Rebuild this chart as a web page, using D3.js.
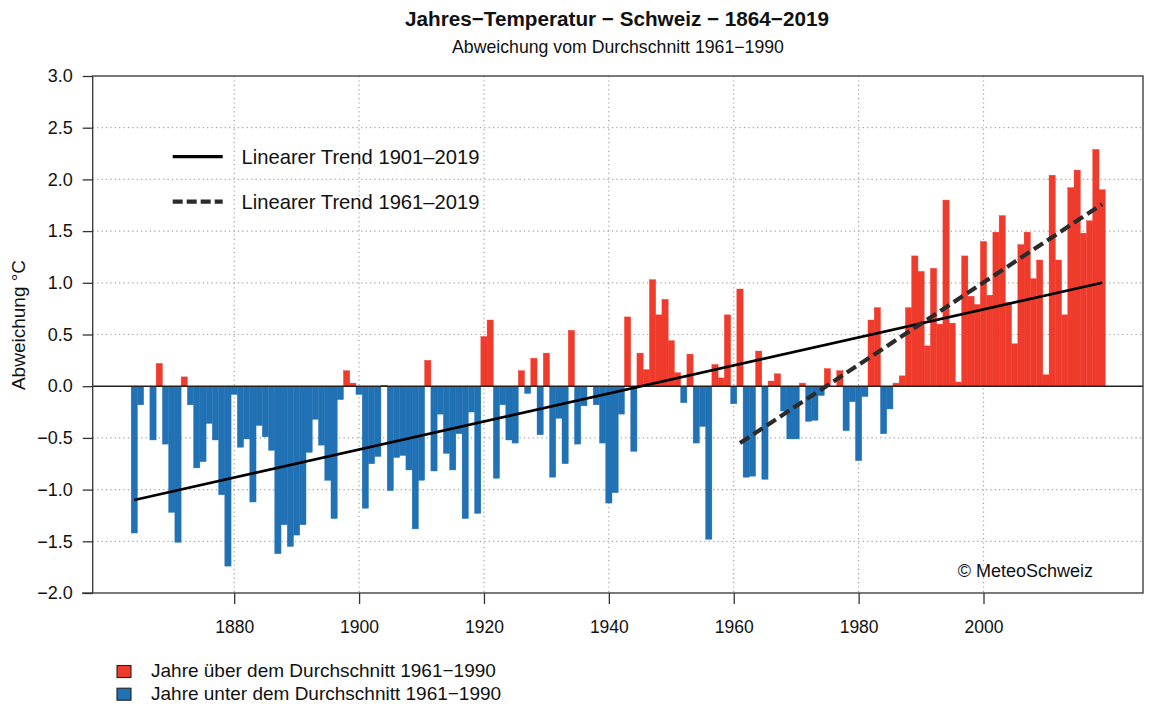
<!DOCTYPE html>
<html><head><meta charset="utf-8">
<script src="https://cdn.jsdelivr.net/npm/d3@7"></script>
<style>
html,body{margin:0;padding:0;background:#fff;}
svg{display:block;font-family:"Liberation Sans",Arial,Helvetica,sans-serif;}
</style></head><body>
<svg id="chart" width="1149" height="704"></svg>
<script>
const startYear = 1864;
const anomalies = [
 -1.42,-0.18,0.00,-0.52,0.22,-0.56,-1.22,-1.51,0.09,-0.18,
 -0.79,-0.73,-0.36,-0.52,-1.05,-1.74,-0.08,-0.59,-0.51,-1.12,
 -0.38,-0.49,-0.62,-1.62,-1.34,-1.55,-1.44,-1.34,-0.64,-0.32,
 -0.57,-0.91,-1.28,-0.13,0.15,0.03,-0.08,-1.18,-0.75,-0.68,
 0.01,-1.01,-0.69,-0.67,-0.81,-1.38,-0.91,0.25,-0.82,-0.27,
 -0.65,-0.81,-0.46,-1.28,-0.25,-1.23,0.48,0.64,-0.89,-0.18,
 -0.52,-0.55,0.15,-0.07,0.27,-0.47,0.32,-0.88,-0.31,-0.75,
 0.54,-0.56,-0.19,0.00,-0.18,-0.55,-1.13,-1.03,-0.27,0.67,
 -0.63,0.32,0.16,1.03,0.69,0.84,0.44,0.13,-0.16,0.31,
 -0.55,-0.39,-1.48,0.21,0.08,0.69,-0.17,0.94,-0.88,-0.87,
 0.34,-0.90,0.05,0.12,-0.24,-0.51,-0.51,0.03,-0.34,-0.33,
 -0.09,0.17,0.00,0.15,-0.43,-0.15,-0.72,-0.10,0.64,0.76,
 -0.46,-0.22,0.03,0.10,0.76,1.26,1.11,0.39,1.14,0.60,
 1.80,0.61,0.04,1.26,0.87,0.79,1.40,0.88,1.49,1.65,
 0.81,0.41,1.37,1.49,1.04,1.22,0.11,2.04,1.22,0.69,
 1.92,2.09,1.48,1.60,2.29,1.90
];
const years = d3.range(startYear, startYear + anomalies.length);
const xTicks = [1880, 1900, 1920, 1940, 1960, 1980, 2000];
const yTicks = [-2.0, -1.5, -1.0, -0.5, 0.0, 0.5, 1.0, 1.5, 2.0, 2.5, 3.0];
const trendLong = {years: [1864, 2019], values: [-1.10, 1.00]};
const trendShort = {years: [1961, 2019], values: [-0.55, 1.76]};
const legendTrendLabels = ["Linearer Trend 1901\u20132019", "Linearer Trend 1961\u20132019"];
const legendBarLabels = ["Jahre \u00fcber dem Durchschnitt 1961\u22121990", "Jahre unter dem Durchschnitt 1961\u22121990"];
const titleText = "Jahres\u2212Temperatur \u2212 Schweiz \u2212 1864\u22122019";
const subtitleText = "Abweichung vom Durchschnitt 1961\u22121990";
const yLabel = "Abweichung \u00b0C";
const credit = "\u00a9 MeteoSchweiz";

const RED = "#ef3b2c", BLUE = "#2171b5";
const plot = {left: 92.7, right: 1143, top: 76, bottom: 593};
const svg = d3.select("#chart");

const x = d3.scaleLinear().domain([1880, 2000]).range([234.2, 983.5]);
const y = d3.scaleLinear().domain([-2, 3]).range([plot.bottom, plot.top]);

// grid
const grid = svg.append("g").attr("stroke", "#a0a0a0").attr("stroke-width", 1.2).attr("stroke-dasharray", "1.2,3.2");
grid.selectAll("line.v").data(xTicks).join("line")
  .attr("x1", d => x(d)).attr("x2", d => x(d)).attr("y1", plot.top).attr("y2", plot.bottom);
grid.selectAll("line.h").data(yTicks.filter(v => v !== 0 && v > -2 && v < 3)).join("line")
  .attr("x1", plot.left).attr("x2", plot.right).attr("y1", d => y(d)).attr("y2", d => y(d));

// bars
const data = years.map((yr, i) => ({year: yr, v: anomalies[i]}));
svg.append("g").selectAll("rect").data(data).join("rect")
  .attr("x", d => x(d.year - 0.5))
  .attr("width", d => x(d.year + 0.5) - x(d.year - 0.5))
  .attr("y", d => y(Math.max(0, d.v)))
  .attr("height", d => Math.abs(y(d.v) - y(0)))
  .attr("fill", d => d.v > 0 ? RED : BLUE)
  .attr("stroke", d => d.v > 0 ? RED : BLUE)
  .attr("stroke-width", 0.4);

// zero line
svg.append("line").attr("x1", plot.left).attr("x2", plot.right)
  .attr("y1", y(0)).attr("y2", y(0)).attr("stroke", "#222").attr("stroke-width", 1.6);

// trend lines
const line = d3.line().x(d => x(d[0])).y(d => y(d[1]));
svg.append("path").datum(trendLong.years.map((yr, i) => [yr, trendLong.values[i]]))
  .attr("d", line).attr("fill", "none").attr("stroke", "#000").attr("stroke-width", 2.6);
svg.append("path").datum(trendShort.years.map((yr, i) => [yr, trendShort.values[i]]))
  .attr("d", line).attr("fill", "none").attr("stroke", "#2b2b2b").attr("stroke-width", 4.2)
  .attr("stroke-dasharray", "11,5");

// frame
svg.append("rect").attr("x", plot.left).attr("y", plot.top)
  .attr("width", plot.right - plot.left).attr("height", plot.bottom - plot.top)
  .attr("fill", "none").attr("stroke", "#333").attr("stroke-width", 1.3);
svg.append("line").attr("x1", 82).attr("x2", plot.left).attr("y1", plot.bottom).attr("y2", plot.bottom)
  .attr("stroke", "#333").attr("stroke-width", 1.3);

// axes
const yAxis = d3.axisLeft(y).tickValues(yTicks).tickFormat(d => d3.format(".1f")(d).replace("-", "\u2212"))
  .tickSize(10).tickPadding(10);
const gy = svg.append("g").attr("transform", `translate(${plot.left},0)`).call(yAxis);
gy.select(".domain").remove();
gy.selectAll("line").attr("stroke", "#333").attr("stroke-width", 1.3);
gy.selectAll("text").attr("font-size", 18).attr("fill", "#111").attr("font-family", "Liberation Sans, Arial, sans-serif");

const xAxis = d3.axisBottom(x).tickValues(xTicks).tickFormat(d3.format("d")).tickSize(11).tickPadding(17);
const gx = svg.append("g").attr("transform", `translate(0,${plot.bottom})`).call(xAxis);
gx.select(".domain").remove();
gx.selectAll("line").attr("stroke", "#333").attr("stroke-width", 1.3);
gx.selectAll("text").attr("font-size", 17.5).attr("fill", "#111").attr("font-family", "Liberation Sans, Arial, sans-serif");

// titles
svg.append("text").attr("x", 617).attr("y", 26).attr("text-anchor", "middle")
  .attr("font-size", 20.7).attr("font-weight", "bold").attr("fill", "#111").text(titleText);
svg.append("text").attr("x", 618).attr("y", 53).attr("text-anchor", "middle")
  .attr("font-size", 17.7).attr("fill", "#111").text(subtitleText);
svg.append("text").attr("transform", "translate(25,325) rotate(-90)").attr("text-anchor", "middle")
  .attr("font-size", 19).attr("fill", "#111").text(yLabel);

// credit
svg.append("text").attr("x", 1093).attr("y", 577).attr("text-anchor", "end")
  .attr("font-size", 18).attr("fill", "#111").text(credit);

// trend legend
const tl = svg.append("g");
tl.append("line").attr("x1", 172.7).attr("x2", 222.7).attr("y1", 156.7).attr("y2", 156.7)
  .attr("stroke", "#000").attr("stroke-width", 3.3);
tl.append("line").attr("x1", 172.7).attr("x2", 222.7).attr("y1", 201.7).attr("y2", 201.7)
  .attr("stroke", "#2b2b2b").attr("stroke-width", 4.2).attr("stroke-dasharray", "10,4");
tl.selectAll("text").data(legendTrendLabels).join("text")
  .attr("x", 241.5).attr("y", (d, i) => 164 + i * 45)
  .attr("font-size", 20.2).attr("fill", "#111").text(d => d);

// bar legend
const bl = svg.append("g");
bl.selectAll("rect").data([RED, BLUE]).join("rect")
  .attr("x", 117).attr("y", (d, i) => 665.5 + i * 22.7).attr("width", 14).attr("height", 12)
  .attr("fill", d => d).attr("stroke", "#222").attr("stroke-width", 1.1);
bl.selectAll("text").data(legendBarLabels).join("text")
  .attr("x", 151).attr("y", (d, i) => 677 + i * 22.7)
  .attr("font-size", 19).attr("fill", "#111").text(d => d);
</script>
</body></html>
